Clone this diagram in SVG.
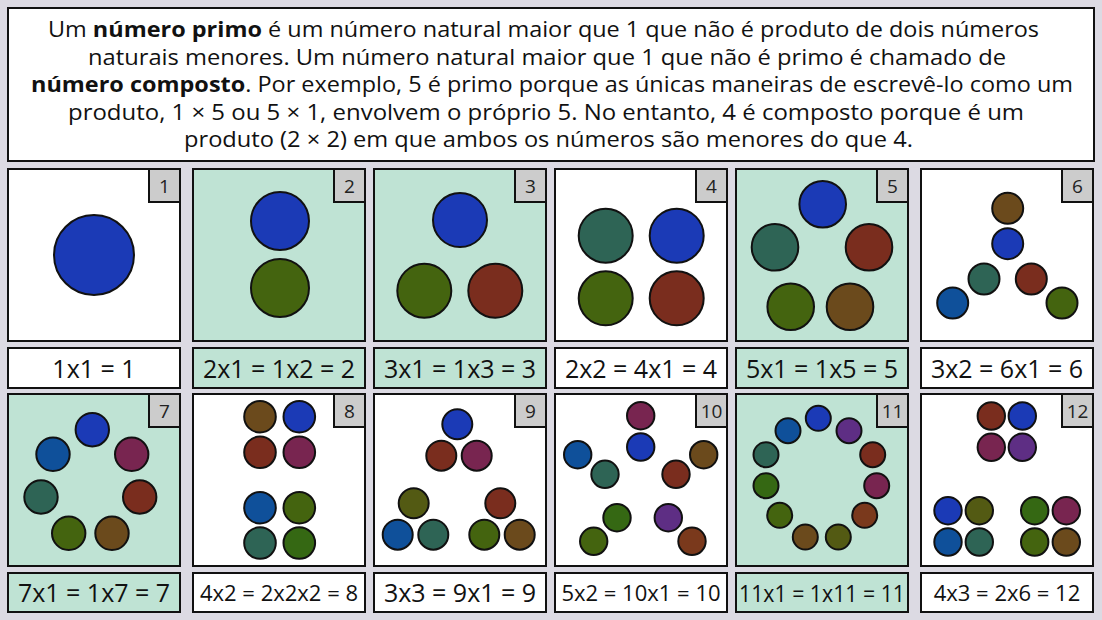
<svg xmlns="http://www.w3.org/2000/svg" width="1102" height="620" viewBox="0 0 1102 620">
<style>
.bg{fill:#dcdae3}
.box{fill:#ffffff;stroke:#111;stroke-width:2}
.pr{fill:#bfe3d4;stroke:#111;stroke-width:2}
.tag{fill:#cccccc;stroke:#111;stroke-width:2}
.tt{font-family:"Open Sans","Liberation Sans",sans-serif;font-size:19px;fill:#222;text-anchor:middle}
.lb{font-family:"Open Sans","Liberation Sans",sans-serif;font-size:25px;fill:#111;text-anchor:middle}
.intro{font-family:"Open Sans","Liberation Sans",sans-serif;font-size:21px;fill:#111}
.b{font-weight:bold}
circle{stroke:#111;stroke-width:2}
.B{fill:#1b3ab6}.G{fill:#44640f}.R{fill:#7a2d1e}.T{fill:#2e6455}.N{fill:#6b4a1c}.S{fill:#0f509a}
.M{fill:#782550}.P{fill:#5e2e84}.Gr{fill:#356813}.O{fill:#535a13}.U{fill:#7a391c}
</style>
<rect class="bg" x="0" y="0" width="1102" height="620"/>
<g id="intro">
<rect class="box" x="8" y="8" width="1086" height="153"/>
<text class="intro" x="48" y="37" textLength="991" lengthAdjust="spacingAndGlyphs">Um <tspan class="b">número primo</tspan> é um número natural maior que 1 que não é produto de dois números</text>
<text class="intro" x="88" y="64.5" textLength="918" lengthAdjust="spacingAndGlyphs">naturais menores. Um número natural maior que 1 que não é primo é chamado de</text>
<text class="intro" x="31" y="92" textLength="1042" lengthAdjust="spacingAndGlyphs"><tspan class="b">número composto</tspan>. Por exemplo, 5 é primo porque as únicas maneiras de escrevê-lo como um</text>
<text class="intro" x="68" y="119.5" textLength="956" lengthAdjust="spacingAndGlyphs">produto, 1 × 5 ou 5 × 1, envolvem o próprio 5. No entanto, 4 é composto porque é um</text>
<text class="intro" x="184" y="147" textLength="729" lengthAdjust="spacingAndGlyphs">produto (2 × 2) em que ambos os números são menores do que 4.</text>
</g>
<g id="n1">
<rect class="box" x="8" y="169" width="172" height="172"/>
<rect class="tag" x="149" y="169" width="31" height="33"/><text class="tt" x="164.5" y="193">1</text>
<circle class="B" cx="94" cy="255" r="40"/>
<rect class="box" x="8" y="348" width="172" height="40"/><text class="lb" x="94" y="378">1x1 = 1</text>
</g>
<g id="n2">
<rect class="pr" x="193" y="169" width="172" height="172"/>
<rect class="tag" x="334" y="169" width="31" height="33"/><text class="tt" x="349.5" y="193">2</text>
<circle class="B" cx="280" cy="221" r="29"/><circle class="G" cx="280" cy="288" r="29"/>
<rect class="pr" x="193" y="348" width="172" height="40"/><text class="lb" x="279" y="378">2x1 = 1x2 = 2</text>
</g>
<g id="n3">
<rect class="pr" x="374" y="169" width="172" height="172"/>
<rect class="tag" x="515" y="169" width="31" height="33"/><text class="tt" x="530.5" y="193">3</text>
<circle class="B" cx="460" cy="220" r="27"/><circle class="G" cx="424.3" cy="290.7" r="27"/><circle class="R" cx="495.3" cy="290.7" r="27"/>
<rect class="pr" x="374" y="348" width="172" height="40"/><text class="lb" x="460" y="378">3x1 = 1x3 = 3</text>
</g>
<g id="n4">
<rect class="box" x="555" y="169" width="172" height="172"/>
<rect class="tag" x="696" y="169" width="31" height="33"/><text class="tt" x="711.5" y="193">4</text>
<circle class="T" cx="605.7" cy="235.7" r="27"/><circle class="B" cx="676.7" cy="235.7" r="27"/><circle class="G" cx="605.7" cy="298.3" r="27"/><circle class="R" cx="676.7" cy="298.3" r="27"/>
<rect class="box" x="555" y="348" width="172" height="40"/><text class="lb" x="641" y="378">2x2 = 4x1 = 4</text>
</g>
<g id="n5">
<rect class="pr" x="736" y="169" width="172" height="172"/>
<rect class="tag" x="877" y="169" width="31" height="33"/><text class="tt" x="892.5" y="193">5</text>
<circle class="B" cx="822.7" cy="204.3" r="23.3"/><circle class="T" cx="775" cy="247.3" r="23.3"/><circle class="R" cx="869" cy="247.3" r="23.3"/><circle class="G" cx="790.7" cy="306.7" r="23.3"/><circle class="N" cx="850" cy="306.7" r="23.3"/>
<rect class="pr" x="736" y="348" width="172" height="40"/><text class="lb" x="822" y="378">5x1 = 1x5 = 5</text>
</g>
<g id="n6">
<rect class="box" x="921" y="169" width="172" height="172"/>
<rect class="tag" x="1062" y="169" width="31" height="33"/><text class="tt" x="1077.5" y="193">6</text>
<circle class="N" cx="1007.7" cy="208.3" r="15.5"/><circle class="B" cx="1007.7" cy="243.7" r="15.5"/><circle class="T" cx="984" cy="279" r="15.5"/><circle class="R" cx="1031.3" cy="279" r="15.5"/><circle class="S" cx="952.7" cy="303" r="15.5"/><circle class="G" cx="1062" cy="303" r="15.5"/>
<rect class="box" x="921" y="348" width="172" height="40"/><text class="lb" x="1007" y="378">3x2 = 6x1 = 6</text>
</g>
<g id="n7">
<rect class="pr" x="8" y="394" width="172" height="172"/>
<rect class="tag" x="149" y="394" width="31" height="33"/><text class="tt" x="164.5" y="418">7</text>
<circle class="B" cx="92.3" cy="429.7" r="16.7"/><circle class="M" cx="131.7" cy="454.3" r="16.7"/><circle class="S" cx="53" cy="454.3" r="16.7"/><circle class="T" cx="41" cy="497" r="16.7"/><circle class="R" cx="139.7" cy="497" r="16.7"/><circle class="G" cx="68.7" cy="533.3" r="16.7"/><circle class="N" cx="112" cy="533.3" r="16.7"/>
<rect class="pr" x="8" y="573" width="172" height="39"/><text class="lb" x="94" y="602">7x1 = 1x7 = 7</text>
</g>
<g id="n8">
<rect class="box" x="193" y="394" width="172" height="172"/>
<rect class="tag" x="334" y="394" width="31" height="33"/><text class="tt" x="349.5" y="418">8</text>
<circle class="N" cx="260" cy="416.7" r="15.8"/><circle class="B" cx="299.3" cy="416.7" r="15.8"/><circle class="R" cx="260" cy="452.3" r="15.8"/><circle class="M" cx="299.3" cy="452.3" r="15.8"/><circle class="S" cx="260" cy="507.7" r="15.8"/><circle class="G" cx="299.3" cy="507.7" r="15.8"/><circle class="T" cx="260" cy="543" r="15.8"/><circle class="Gr" cx="299.3" cy="543" r="15.8"/>
<rect class="box" x="193" y="573" width="172" height="39"/><text class="lb" x="279" y="601" style="font-size:22px">4x2 = 2x2x2 = 8</text>
</g>
<g id="n9">
<rect class="box" x="374" y="394" width="172" height="172"/>
<rect class="tag" x="515" y="394" width="31" height="33"/><text class="tt" x="530.5" y="418">9</text>
<circle class="B" cx="457.3" cy="424.3" r="15"/><circle class="R" cx="441.3" cy="455.7" r="15"/><circle class="M" cx="476.7" cy="455.7" r="15"/><circle class="O" cx="413.7" cy="503.3" r="15"/><circle class="S" cx="397.7" cy="534.7" r="15"/><circle class="T" cx="433.3" cy="534.7" r="15"/><circle class="R" cx="500.3" cy="503.3" r="15"/><circle class="G" cx="484.3" cy="534.7" r="15"/><circle class="N" cx="519.7" cy="534.7" r="15"/>
<rect class="box" x="374" y="573" width="172" height="39"/><text class="lb" x="460" y="602">3x3 = 9x1 = 9</text>
</g>
<g id="n10">
<rect class="box" x="555" y="394" width="172" height="172"/>
<rect class="tag" x="696" y="394" width="31" height="33"/><text class="tt" x="711.5" y="418">10</text>
<circle class="M" cx="640.7" cy="415.7" r="13.7"/><circle class="B" cx="640.7" cy="447" r="13.7"/><circle class="S" cx="577.7" cy="454.7" r="13.7"/><circle class="T" cx="605" cy="474.3" r="13.7"/><circle class="N" cx="703.7" cy="454.7" r="13.7"/><circle class="R" cx="676" cy="474.3" r="13.7"/><circle class="Gr" cx="617" cy="517.7" r="13.7"/><circle class="G" cx="593.7" cy="541.3" r="13.7"/><circle class="P" cx="668.3" cy="517.7" r="13.7"/><circle class="U" cx="692" cy="541.3" r="13.7"/>
<rect class="box" x="555" y="573" width="172" height="39"/><text class="lb" x="641" y="601" style="font-size:22px">5x2 = 10x1 = 10</text>
</g>
<g id="n11">
<rect class="pr" x="736" y="394" width="172" height="172"/>
<rect class="tag" x="877" y="394" width="31" height="33"/><text class="tt" x="892.5" y="418">11</text>
<circle class="B" cx="818.3" cy="418.3" r="12.5"/><circle class="P" cx="849" cy="430.7" r="12.5"/><circle class="S" cx="788" cy="430.7" r="12.5"/><circle class="T" cx="766" cy="454.7" r="12.5"/><circle class="R" cx="872.7" cy="454.7" r="12.5"/><circle class="Gr" cx="766" cy="485.7" r="12.5"/><circle class="M" cx="876.7" cy="485.7" r="12.5"/><circle class="G" cx="779.7" cy="515.3" r="12.5"/><circle class="U" cx="864.7" cy="515.3" r="12.5"/><circle class="N" cx="805.3" cy="537" r="12.5"/><circle class="O" cx="838.3" cy="537" r="12.5"/>
<rect class="pr" x="736" y="573" width="172" height="39"/><text class="lb" x="822" y="602" style="font-size:23px" textLength="166" lengthAdjust="spacingAndGlyphs">11x1 = 1x11 = 11</text>
</g>
<g id="n12">
<rect class="box" x="921" y="394" width="172" height="172"/>
<rect class="tag" x="1062" y="394" width="31" height="33"/><text class="tt" x="1077.5" y="418">12</text>
<circle class="R" cx="991.3" cy="416" r="13.7"/><circle class="B" cx="1022.3" cy="416" r="13.7"/><circle class="M" cx="991.3" cy="447.3" r="13.7"/><circle class="P" cx="1022.3" cy="447.3" r="13.7"/>
<circle class="B" cx="948" cy="510.7" r="13.7"/><circle class="O" cx="979.3" cy="510.7" r="13.7"/><circle class="S" cx="948" cy="542" r="13.7"/><circle class="T" cx="979.3" cy="542" r="13.7"/>
<circle class="Gr" cx="1034.7" cy="510.7" r="13.7"/><circle class="M" cx="1066.3" cy="510.7" r="13.7"/><circle class="G" cx="1034.7" cy="542" r="13.7"/><circle class="N" cx="1066.3" cy="542" r="13.7"/>
<rect class="box" x="921" y="573" width="172" height="39"/><text class="lb" x="1007" y="601" style="font-size:22px">4x3 = 2x6 = 12</text>
</g>
<g id="connectors"/>
</svg>
